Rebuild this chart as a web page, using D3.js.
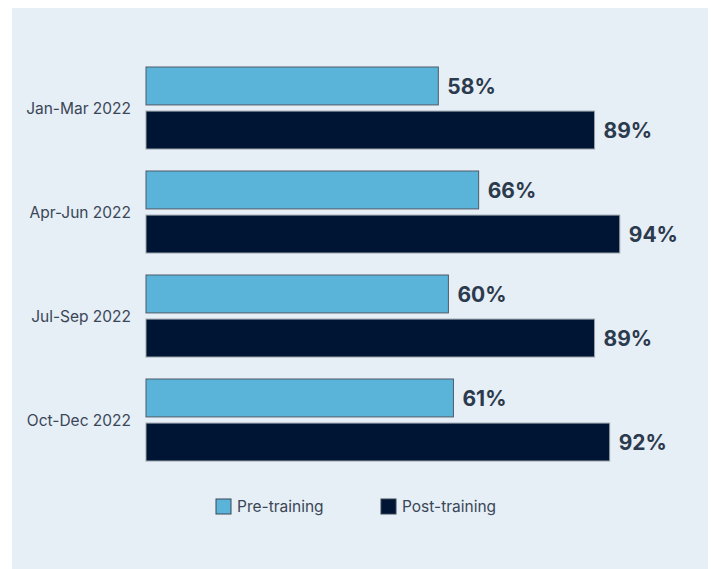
<!DOCTYPE html>
<html>
<head>
<meta charset="utf-8">
<script src="https://cdn.jsdelivr.net/npm/d3@7"></script>
<style>
  body { margin: 0; background: #fff; }
  svg { display: block; font-family: Inter, "Noto Sans", sans-serif; }
</style>
</head>
<body>
<script>
// data
var quarters = ["Jan-Mar 2022", "Apr-Jun 2022", "Jul-Sep 2022", "Oct-Dec 2022"];
var preTraining = [58, 66, 60, 61];
var postTraining = [89, 94, 89, 92];
var seriesNames = ["Pre-training", "Post-training"];

var svgWidth = 711;
var svgHeight = 569;

var colors = { pre: "#5ab4da", post: "#001433" };
var strokes = { pre: "#4f5a66", post: "#9aa3ad" };
var labelColor = "#2c3a4d";

var svg = d3.select("body").append("svg")
    .attr("width", svgWidth)
    .attr("height", svgHeight);

// light panel behind the chart
svg.append("rect")
    .attr("x", 12).attr("y", 8)
    .attr("width", 696).attr("height", 561)
    .attr("fill", "#e6eef6");

var x = d3.scaleLinear().domain([0, 100]).range([146, 650]);

// one band per quarter, then pre / post inside each
var y = d3.scaleBand().domain(quarters).range([67, 461]).paddingInner(0.2115).paddingOuter(0);
var y1 = d3.scaleBand().domain(["pre", "post"]).range([0, y.bandwidth()]).paddingInner(0.14);

var rows = quarters.map(function(q, i) {
    return { quarter: q, pre: preTraining[i], post: postTraining[i] };
});

var groups = svg.selectAll(".group")
    .data(rows)
    .enter().append("g")
    .attr("class", "group")
    .attr("transform", function(d) { return "translate(0," + y(d.quarter) + ")"; });

["pre", "post"].forEach(function(key) {
    groups.append("rect")
        .attr("x", x(0))
        .attr("y", y1(key))
        .attr("width", function(d) { return x(d[key]) - x(0); })
        .attr("height", y1.bandwidth())
        .attr("fill", colors[key])
        .attr("stroke", strokes[key])
        .attr("stroke-width", 1);

    groups.append("text")
        .attr("x", function(d) { return x(d[key]) + 9; })
        .attr("y", y1(key) + y1.bandwidth() / 2)
        .attr("dy", "0.36em")
        .attr("font-size", 21)
        .attr("font-weight", 700)
        .attr("fill", labelColor)
        .text(function(d) { return d[key] + "%"; });
});

// quarter labels on the left
groups.append("text")
    .attr("x", 131)
    .attr("y", y.bandwidth() / 2)
    .attr("dy", "0.36em")
    .attr("text-anchor", "end")
    .attr("font-size", 15.5)
    .attr("fill", "#3a4656")
    .text(function(d) { return d.quarter; });

// legend
var legend = svg.append("g").attr("transform", "translate(216,499)");
var legendItems = legend.selectAll(".item")
    .data(seriesNames)
    .enter().append("g")
    .attr("class", "item")
    .attr("transform", function(d, i) { return "translate(" + (i * 165) + ",0)"; });

legendItems.append("rect")
    .attr("width", 15).attr("height", 15)
    .attr("fill", function(d, i) { return i === 0 ? colors.pre : colors.post; })
    .attr("stroke", "#3a4656")
    .attr("stroke-width", 1);

legendItems.append("text")
    .attr("x", 21)
    .attr("y", 7.5)
    .attr("dy", "0.36em")
    .attr("font-size", 15.5)
    .attr("fill", "#3a4656")
    .text(function(d) { return d; });
</script>
</body>
</html>
